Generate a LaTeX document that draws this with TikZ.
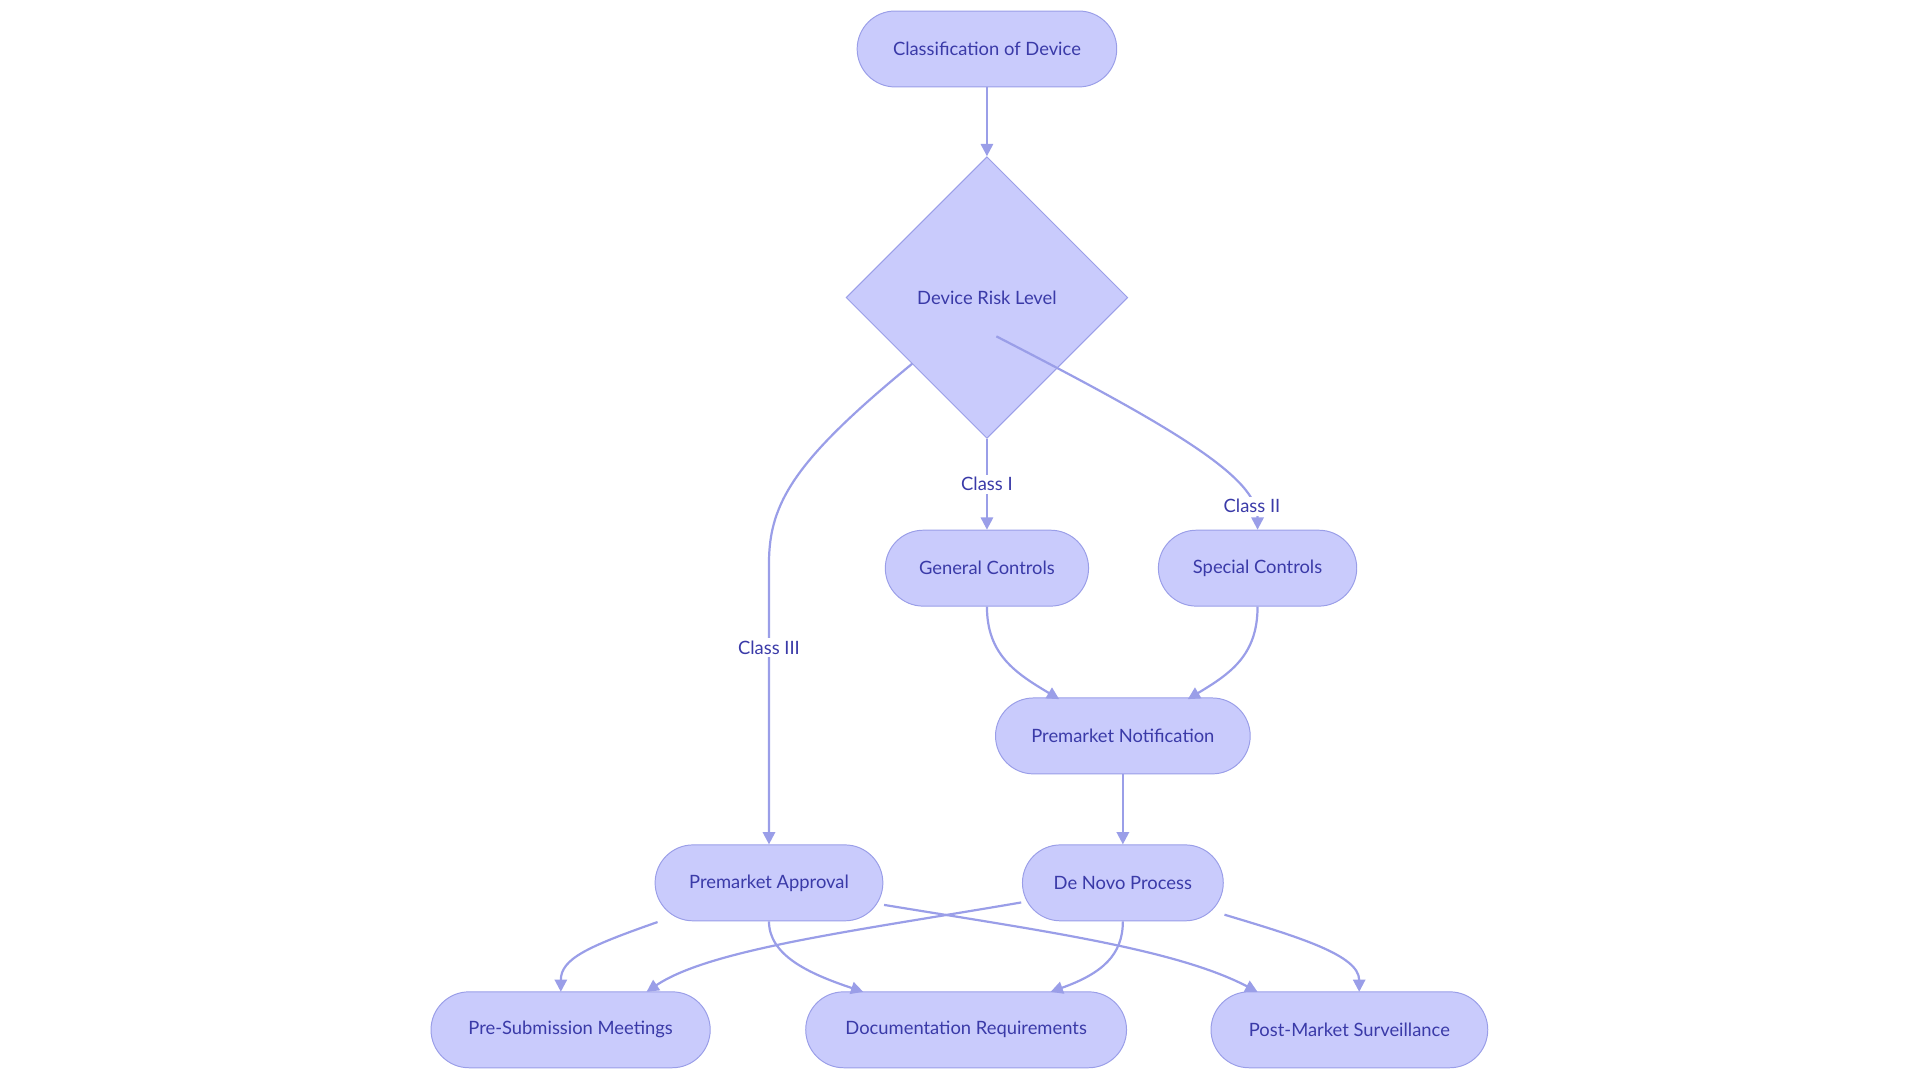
\documentclass[tikz,border=0pt]{standalone}
\usepackage{fontspec}
\setmainfont{Lato}
\usetikzlibrary{shapes.geometric,arrows.meta}
\definecolor{nfill}{HTML}{C9CBFC}
\definecolor{nline}{HTML}{9A9EE8}
\definecolor{ntext}{HTML}{3A3AA8}
\begin{document}
\begin{tikzpicture}[x=1pt,y=-1pt,
  box/.style={rounded corners=31pt,draw=nline,fill=nfill,text=ntext,minimum height=62pt,font=\fontsize{15}{18}\selectfont,inner sep=0pt,line width=0.8pt},
  dia/.style={diamond,draw=nline,fill=nfill,text=ntext,minimum width=230pt,minimum height=230pt,font=\fontsize{15}{18}\selectfont,inner sep=0pt,line width=0.8pt},
  ed/.style={draw=nline,line width=1.8pt,-{Triangle[length=10pt,width=10pt]}},
  lb/.style={fill=white,text=ntext,font=\fontsize{15}{18}\selectfont,inner sep=2pt}]
\useasboundingbox (0,0) rectangle (1568,882);
\node[box,minimum width=212pt] (cls) at (806,40) {Classification of Device};
\node[dia] (risk) at (806,243) {Device Risk Level};
\node[box,minimum width=166pt] (gen) at (806,464) {General Controls};
\node[box,minimum width=162pt] (spe) at (1027,464) {Special Controls};
\node[box,minimum width=208pt] (pmn) at (917,601) {Premarket Notification};
\node[box,minimum width=186pt] (pma) at (628,721) {Premarket Approval};
\node[box,minimum width=164pt] (dnv) at (917,721) {De Novo Process};
\node[box,minimum width=228pt] (pre) at (466,841) {Pre-Submission Meetings};
\node[box,minimum width=262pt] (doc) at (789,841) {Documentation Requirements};
\node[box,minimum width=226pt] (post) at (1102,841) {Post-Market Surveillance};
\draw[ed] (cls) -- (risk);
\draw[ed] (risk.south) -- node[lb,pos=0.5]{Class I} (gen.north);
\draw[ed] (risk.south east) ++(-50,-26) .. controls (960,350) and (1027,390) .. node[lb,pos=0.85]{Class II} (spe.north);
\draw[ed] (745,297) .. controls (650,375) and (628,410) .. (628,460) -- node[lb,pos=0.3]{Class III} (pma.north);
\draw[ed] (gen.south) .. controls (806,535) and (830,550) .. (865,571);
\draw[ed] (spe.south) .. controls (1027,535) and (1005,550) .. (970,571);
\draw[ed] (pmn) -- (dnv);
\draw[ed] (537,753) .. controls (480,773) and (458,783) .. (458,810);
\draw[ed] (pma.south) .. controls (628,780) and (660,795) .. (705,810);
\draw[ed] (722,739) .. controls (850,760) and (960,775) .. (1027,810);
\draw[ed] (834,737) .. controls (700,760) and (580,775) .. (528,810);
\draw[ed] (dnv.south) .. controls (917,780) and (900,795) .. (858,810);
\draw[ed] (1000,747) .. controls (1060,765) and (1110,780) .. (1110,810);
\end{tikzpicture}
\end{document}
